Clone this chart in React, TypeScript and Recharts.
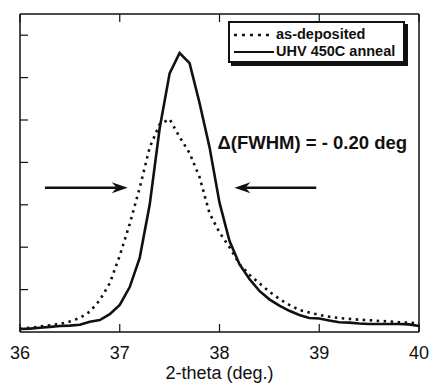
import React from 'react';
import { LineChart, Line, XAxis, YAxis, Legend, ReferenceLine, ReferenceDot } from 'recharts';

// 2-theta grid (deg.), 0.1 deg steps
const twoTheta = [
    36.0, 36.1, 36.2, 36.3, 36.4, 36.5, 36.6, 36.7, 36.8, 36.9,
    37.0, 37.1, 37.2, 37.3, 37.4, 37.5, 37.6, 37.7, 37.8, 37.9,
    38.0, 38.1, 38.2, 38.3, 38.4, 38.5, 38.6, 38.7, 38.8, 38.9,
    39.0, 39.1, 39.2, 39.3, 39.4, 39.5, 39.6, 39.7, 39.8, 39.9, 40.0,
];

// intensity, arbitrary units
const asDeposited = [
    0.07, 0.1, 0.13, 0.16, 0.19, 0.25, 0.33, 0.48, 0.75, 1.15,
    1.8, 2.55, 3.4, 4.35, 4.9, 5.02, 4.6, 4.22, 3.65, 2.8,
    2.35, 2.0, 1.6, 1.35, 1.15, 0.95, 0.78, 0.64, 0.52, 0.46,
    0.4, 0.36, 0.33, 0.31, 0.29, 0.28, 0.26, 0.25, 0.23, 0.22, 0.2,
];

const uhvAnneal = [
    0.07, 0.08, 0.1, 0.12, 0.14, 0.15, 0.17, 0.24, 0.28, 0.42,
    0.64, 1.06, 1.75, 3.0, 4.8, 6.1, 6.58, 6.34, 5.4, 4.36,
    3.05, 2.15, 1.6, 1.25, 0.97, 0.77, 0.62, 0.5, 0.4, 0.33,
    0.32, 0.27, 0.23, 0.22, 0.2, 0.19, 0.19, 0.19, 0.19, 0.18, 0.14,
];

const xTicks = [36, 37, 38, 39, 40];
const yTicks = [1, 2, 3, 4, 5, 6, 7];
const seriesNames = ['as-deposited', 'UHV 450C anneal'];

// annotation text + arrows (data units)
const fwhmNote = '\u0394(FWHM) = - 0.20 deg';
const noteAt = { x: 38.93, y: 4.32 };
const arrowY = 3.4;
const leftArrow = [36.25, 37.08];
const rightArrow = [38.97, 38.15];

const FONT = '"Liberation Sans", Arial, sans-serif';
const INK = '#111';

const data = twoTheta.map((t, i) => ({ t, dep: asDeposited[i], uhv: uhvAnneal[i] }));

const Arrow = (props: any) => {
    const { x1, y1, x2, y2 } = props;
    const dir = x2 > x1 ? 1 : -1;
    const head = 16;
    const back = x2 - dir * head;
    const notch = x2 - dir * 11;
    return (
        <g>
            <line x1={x1} y1={y1} x2={notch} y2={y2} stroke={INK} strokeWidth={2.5} />
            <polygon points={`${x2},${y2} ${back},${y2 - 5.5} ${notch},${y2} ${back},${y2 + 5.5}`} fill={INK} />
        </g>
    );
};

const Note = (props: any) => (
    <text
        x={props.cx}
        y={props.cy}
        textAnchor="middle"
        fontFamily={FONT}
        fontWeight="bold"
        fontSize={18.5}
        fill={INK}
    >
        {fwhmNote}
    </text>
);

const LegendBox = () => (
    <div
        style={{
            width: 177,
            boxSizing: 'border-box',
            border: `2px solid ${INK}`,
            boxShadow: `3px 3px 0 ${INK}`,
            background: '#fff',
            padding: '3px 4px 1px 4px',
            fontFamily: FONT,
            fontWeight: 'bold',
            fontSize: 14.5,
            lineHeight: '17px',
            color: INK,
            whiteSpace: 'nowrap',
        }}
    >
        {seriesNames.map((name, i) => (
            <div key={name} style={{ display: 'flex', alignItems: 'center' }}>
                <svg width={40} height={10} style={{ marginRight: 2 }}>
                    <line
                        x1={0}
                        y1={5}
                        x2={40}
                        y2={5}
                        stroke={INK}
                        strokeWidth={i === 0 ? 2.5 : 2}
                        strokeDasharray={i === 0 ? '3 5' : undefined}
                    />
                </svg>
                <span>{name}</span>
            </div>
        ))}
    </div>
);

export default function App() {
    return (
        <div style={{ position: 'absolute', left: 0, top: 0 }}>
            <LineChart width={429} height={384} data={data} margin={{ top: 0, right: 0, bottom: 0, left: 0 }}>
                <XAxis
                    dataKey="t"
                    type="number"
                    domain={[36, 40]}
                    ticks={xTicks}
                    height={52}
                    axisLine={{ stroke: INK, strokeWidth: 1.5 }}
                    tickLine={{ stroke: INK, strokeWidth: 1.2 }}
                    tickSize={-8}
                    tickMargin={22}
                    tick={{ fill: INK, fontSize: 18, fontFamily: FONT }}
                    label={{ value: '2-theta (deg.)', position: 'insideBottom', offset: 5, fill: INK, fontSize: 18, fontFamily: FONT }}
                />
                <XAxis
                    xAxisId="top"
                    dataKey="t"
                    type="number"
                    orientation="top"
                    domain={[36, 40]}
                    ticks={xTicks}
                    height={14}
                    axisLine={{ stroke: INK, strokeWidth: 1.5 }}
                    tickLine={{ stroke: INK, strokeWidth: 1.2 }}
                    tickSize={-8}
                    tickFormatter={() => ''}
                />
                <YAxis
                    type="number"
                    domain={[0, 7.5]}
                    ticks={yTicks}
                    width={20}
                    axisLine={{ stroke: INK, strokeWidth: 1.5 }}
                    tickLine={{ stroke: INK, strokeWidth: 1.2 }}
                    tickSize={-8}
                    tickFormatter={() => ''}
                />
                <YAxis
                    yAxisId="right"
                    orientation="right"
                    type="number"
                    domain={[0, 7.5]}
                    ticks={yTicks}
                    width={10}
                    axisLine={{ stroke: INK, strokeWidth: 1.5 }}
                    tickLine={{ stroke: INK, strokeWidth: 1.2 }}
                    tickSize={-8}
                    tickFormatter={() => ''}
                />
                <Legend
                    verticalAlign="middle"
                    align="center"
                    content={<LegendBox />}
                    wrapperStyle={{ left: 228, top: 21, width: 'auto' }}
                />
                <Line
                    name={seriesNames[0]}
                    dataKey="dep"
                    type="linear"
                    stroke={INK}
                    strokeWidth={2.6}
                    strokeDasharray="2.5 4.5"
                    dot={false}
                    isAnimationActive={false}
                />
                <Line
                    name={seriesNames[1]}
                    dataKey="uhv"
                    type="linear"
                    stroke={INK}
                    strokeWidth={2.6}
                    dot={false}
                    isAnimationActive={false}
                />
                <ReferenceLine
                    segment={[{ x: leftArrow[0], y: arrowY }, { x: leftArrow[1], y: arrowY }]}
                    shape={Arrow}
                />
                <ReferenceLine
                    segment={[{ x: rightArrow[0], y: arrowY }, { x: rightArrow[1], y: arrowY }]}
                    shape={Arrow}
                />
                <ReferenceDot x={noteAt.x} y={noteAt.y} r={0} shape={Note} />
            </LineChart>
        </div>
    );
}
